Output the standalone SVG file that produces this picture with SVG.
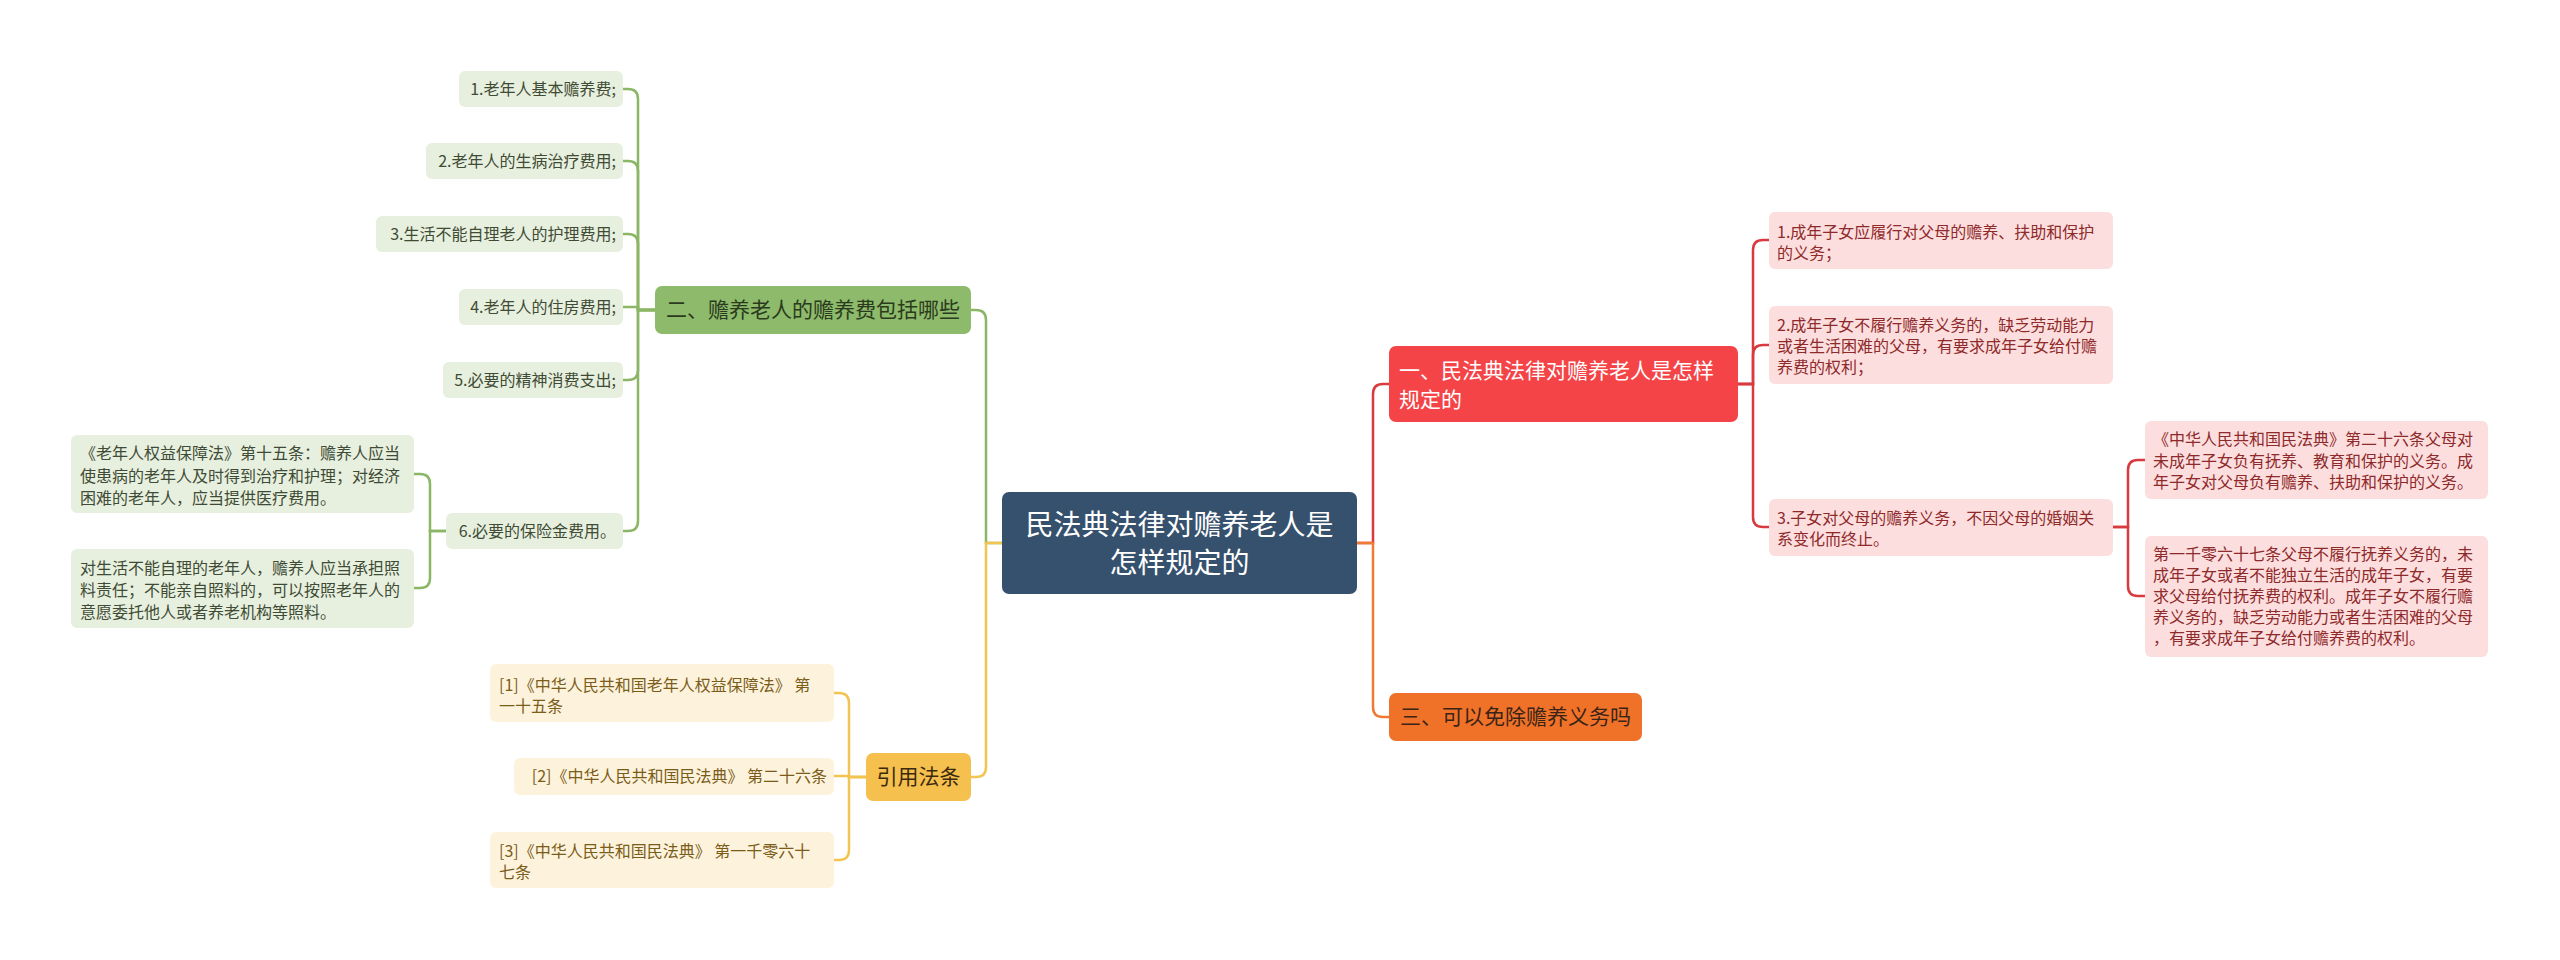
<svg xmlns="http://www.w3.org/2000/svg" width="2560" height="960" viewBox="0 0 2560 960">
<style>
text{font-family:"Noto Sans CJK SC","Noto Sans",sans-serif}
.lf{font-size:16px}
.l1{font-size:21px}
.ctr{font-size:28px;fill:#ffffff}
.gl{fill:#e7f0df}
.glt{fill:#3f4b34}
.gn{fill:#8dbb6b}
.gnt{fill:#2b3a1c}
.pl{fill:#fddedf}
.plt{fill:#8e2a2a}
.yl{fill:#fdf3dd}
.ylt{fill:#7b5c18}
.cg{fill:none;stroke:#8ab665;stroke-width:2.5}
.cr{fill:none;stroke:#d93a40;stroke-width:2.5}
.co{fill:none;stroke:#ef7a33;stroke-width:2.5}
.cy{fill:none;stroke:#f2c452;stroke-width:2.5}
</style>
<rect width="2560" height="960" fill="#ffffff"/>
<g id="connectors">
<path class="cg" d="M1002 543 H986 V320 Q986 310 976 310 H971"/>
<path class="cy" d="M1002 543 H986 V767 Q986 777 976 777 H971"/>
<path class="cr" d="M1357 543 H1373 V394 Q1373 384 1383 384 H1389"/>
<path class="co" d="M1357 543 H1373 V707 Q1373 717 1383 717 H1389"/>
<path class="cg" d="M655 310 H638 V99 Q638 89 628 89 H623"/>
<path class="cg" d="M655 310 H638 V171 Q638 161 628 161 H623"/>
<path class="cg" d="M655 310 H638 V244 Q638 234 628 234 H623"/>
<path class="cg" d="M655 310 H638 V307 H623"/>
<path class="cg" d="M655 310 H638 V370 Q638 380 628 380 H623"/>
<path class="cg" d="M655 310 H638 V521 Q638 531 628 531 H623"/>
<path class="cg" d="M446 531 H430 V484 Q430 474 420 474 H414"/>
<path class="cg" d="M446 531 H430 V578 Q430 588 420 588 H414"/>
<path class="cy" d="M866 777 H849 V703 Q849 693 839 693 H834"/>
<path class="cy" d="M866 777 H849 V776 H834"/>
<path class="cy" d="M866 777 H849 V850 Q849 860 839 860 H834"/>
<path class="cr" d="M1738 384 H1753 V250 Q1753 240 1763 240 H1769"/>
<path class="cr" d="M1738 384 H1753 V355 Q1753 345 1763 345 H1769"/>
<path class="cr" d="M1738 384 H1753 V517 Q1753 527 1763 527 H1769"/>
<path class="cr" d="M2113 527 H2128 V470 Q2128 460 2138 460 H2145"/>
<path class="cr" d="M2113 527 H2128 V586 Q2128 596 2138 596 H2145"/>
</g>
<g id="central">
<rect x="1002" y="492" width="355" height="102" rx="7" fill="#36516d"/>
<text class="ctr" x="1179.5" y="535" text-anchor="middle">民法典法律对赡养老人是</text>
<text class="ctr" x="1179.5" y="573" text-anchor="middle">怎样规定的</text>
</g>
<g id="n2">
<rect class="gn" x="655" y="286" width="316" height="48" rx="7"/>
<text class="l1 gnt" x="813" y="317" text-anchor="middle">二、赡养老人的赡养费包括哪些</text>
</g>
<g id="n2-1">
<rect class="gl" x="459" y="71" width="164" height="36" rx="6"/>
<text class="lf glt" x="616" y="95" text-anchor="end">1.老年人基本赡养费;</text>
</g>
<g id="n2-2">
<rect class="gl" x="426" y="143" width="197" height="36" rx="6"/>
<text class="lf glt" x="616" y="167" text-anchor="end">2.老年人的生病治疗费用;</text>
</g>
<g id="n2-3">
<rect class="gl" x="376" y="216" width="247" height="36" rx="6"/>
<text class="lf glt" x="616" y="240" text-anchor="end">3.生活不能自理老人的护理费用;</text>
</g>
<g id="n2-4">
<rect class="gl" x="459" y="289" width="164" height="36" rx="6"/>
<text class="lf glt" x="616" y="313" text-anchor="end">4.老年人的住房费用;</text>
</g>
<g id="n2-5">
<rect class="gl" x="443" y="362" width="180" height="36" rx="6"/>
<text class="lf glt" x="616" y="386" text-anchor="end">5.必要的精神消费支出;</text>
</g>
<g id="n2-6">
<rect class="gl" x="446" y="513" width="177" height="36" rx="6"/>
<text class="lf glt" x="616" y="537" text-anchor="end">6.必要的保险金费用。</text>
</g>
<g id="n2-6-1">
<rect class="gl" x="71" y="435" width="343" height="78" rx="6"/>
<text class="lf glt" x="80" y="459">《老年人权益保障法》第十五条：赡养人应当</text>
<text class="lf glt" x="80" y="482">使患病的老年人及时得到治疗和护理；对经济</text>
<text class="lf glt" x="80" y="504">困难的老年人，应当提供医疗费用。</text>
</g>
<g id="n2-6-2">
<rect class="gl" x="71" y="549" width="343" height="79" rx="6"/>
<text class="lf glt" x="80" y="574">对生活不能自理的老年人，赡养人应当承担照</text>
<text class="lf glt" x="80" y="596">料责任；不能亲自照料的，可以按照老年人的</text>
<text class="lf glt" x="80" y="618">意愿委托他人或者养老机构等照料。</text>
</g>
<g id="ref">
<rect x="866" y="753" width="105" height="48" rx="7" fill="#f6c04e"/>
<text class="l1" x="918.5" y="784" text-anchor="middle" fill="#3a2a10">引用法条</text>
</g>
<g id="ref-1">
<rect class="yl" x="490" y="664" width="344" height="58" rx="6"/>
<text class="lf ylt" x="499" y="691">[1]《中华人民共和国老年人权益保障法》 第</text>
<text class="lf ylt" x="499" y="712">一十五条</text>
</g>
<g id="ref-2">
<rect class="yl" x="514" y="758" width="320" height="37" rx="6"/>
<text class="lf ylt" x="827" y="782" text-anchor="end">[2]《中华人民共和国民法典》 第二十六条</text>
</g>
<g id="ref-3">
<rect class="yl" x="490" y="832" width="344" height="56" rx="6"/>
<text class="lf ylt" x="499" y="857">[3]《中华人民共和国民法典》 第一千零六十</text>
<text class="lf ylt" x="499" y="878">七条</text>
</g>
<g id="n1">
<rect x="1389" y="346" width="349" height="76" rx="7" fill="#f54447"/>
<text class="l1" x="1399" y="378" fill="#ffffff">一、民法典法律对赡养老人是怎样</text>
<text class="l1" x="1399" y="407" fill="#ffffff">规定的</text>
</g>
<g id="n3">
<rect x="1389" y="693" width="253" height="48" rx="7" fill="#f07229"/>
<text class="l1" x="1400" y="724" fill="#3a2418">三、可以免除赡养义务吗</text>
</g>
<g id="n1-1">
<rect class="pl" x="1769" y="212" width="344" height="57" rx="6"/>
<text class="lf plt" x="1777" y="238">1.成年子女应履行对父母的赡养、扶助和保护</text>
<text class="lf plt" x="1777" y="259">的义务；</text>
</g>
<g id="n1-2">
<rect class="pl" x="1769" y="306" width="344" height="78" rx="6"/>
<text class="lf plt" x="1777" y="331">2.成年子女不履行赡养义务的，缺乏劳动能力</text>
<text class="lf plt" x="1777" y="352">或者生活困难的父母，有要求成年子女给付赡</text>
<text class="lf plt" x="1777" y="373">养费的权利；</text>
</g>
<g id="n1-3">
<rect class="pl" x="1769" y="499" width="344" height="57" rx="6"/>
<text class="lf plt" x="1777" y="524">3.子女对父母的赡养义务，不因父母的婚姻关</text>
<text class="lf plt" x="1777" y="545">系变化而终止。</text>
</g>
<g id="n1-3-1">
<rect class="pl" x="2145" y="421" width="343" height="78" rx="6"/>
<text class="lf plt" x="2153" y="445">《中华人民共和国民法典》第二十六条父母对</text>
<text class="lf plt" x="2153" y="467">未成年子女负有抚养、教育和保护的义务。成</text>
<text class="lf plt" x="2153" y="488">年子女对父母负有赡养、扶助和保护的义务。</text>
</g>
<g id="n1-3-2">
<rect class="pl" x="2145" y="536" width="343" height="121" rx="6"/>
<text class="lf plt" x="2153" y="560">第一千零六十七条父母不履行抚养义务的，未</text>
<text class="lf plt" x="2153" y="581">成年子女或者不能独立生活的成年子女，有要</text>
<text class="lf plt" x="2153" y="602">求父母给付抚养费的权利。成年子女不履行赡</text>
<text class="lf plt" x="2153" y="623">养义务的，缺乏劳动能力或者生活困难的父母</text>
<text class="lf plt" x="2153" y="644">，有要求成年子女给付赡养费的权利。</text>
</g>
</svg>
